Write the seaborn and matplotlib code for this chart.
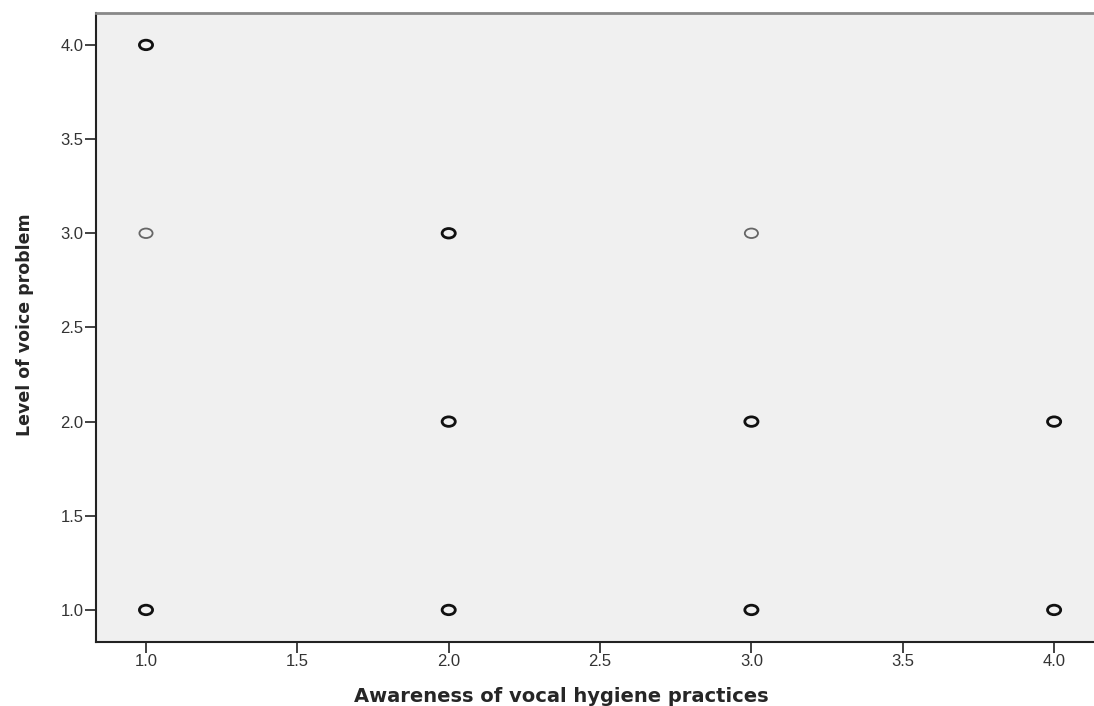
import pandas as pd
import matplotlib
matplotlib.use("Agg")
import matplotlib.pyplot as plt
from matplotlib.path import Path
from matplotlib.transforms import Affine2D
import seaborn as sns

# observed (awareness, voice problem) combinations; n = overlapping cases
awareness = [1, 1, 1, 2, 2, 2, 3, 3, 3, 4, 4]
voice_level = [4, 3, 1, 3, 2, 1, 3, 2, 1, 2, 1]
n_cases = [2, 1, 2, 2, 2, 2, 1, 2, 2, 2, 3]

x_ticks = [1.0, 1.5, 2.0, 2.5, 3.0, 3.5, 4.0]
y_ticks = [1.0, 1.5, 2.0, 2.5, 3.0, 3.5, 4.0]

df = pd.DataFrame({"awareness": awareness, "voice": voice_level, "n": n_cases})

sns.set_style("ticks")
plt.rcParams["font.family"] = ["Liberation Sans", "DejaVu Sans"]

# slightly flattened ring, like the SPSS marker
ring = Path.unit_circle().transformed(Affine2D().scale(1.0, 0.72))

fig = plt.figure(figsize=(10.94, 7.06), dpi=100)
ax = fig.add_axes([0.0878, 0.0907, 0.92, 0.891])
ax.set_facecolor("#f0f0f0")

single = df[df["n"] == 1]
multi = df[df["n"] > 1]
sns.scatterplot(data=single, x="awareness", y="voice", ax=ax, s=90, marker=ring,
                facecolor="none", edgecolor="#666666", linewidth=1.3, zorder=3)
sns.scatterplot(data=multi, x="awareness", y="voice", ax=ax, s=90, marker=ring,
                facecolor="none", edgecolor="#111111", linewidth=2.0, zorder=3)

ax.set_xlim(0.835, 4.16)
ax.set_ylim(0.83, 4.17)
ax.set_xticks(x_ticks)
ax.set_yticks(y_ticks)
ax.set_xticklabels([f"{t:.1f}" for t in x_ticks], fontsize=12, color="#333333")
ax.set_yticklabels([f"{t:.1f}" for t in y_ticks], fontsize=12, color="#333333")
ax.tick_params(axis="both", length=8, width=1.3, color="#333333", pad=1)

for side in ["left", "bottom"]:
    ax.spines[side].set_color("#222222")
    ax.spines[side].set_linewidth(1.5)
ax.spines["top"].set_color("#888888")
ax.spines["top"].set_linewidth(2)
ax.spines["right"].set_visible(False)

ax.set_xlabel("Awareness of vocal hygiene practices", fontsize=14, fontweight="bold",
              family=["DejaVu Sans"])
ax.set_ylabel("Level of voice problem", fontsize=12.5, fontweight="bold",
              family=["DejaVu Sans"])
ax.xaxis.set_label_coords(0.462, -0.072)
ax.yaxis.set_label_coords(-0.062, 0.505)

plt.savefig("out.png", dpi=100)
plt.close()
